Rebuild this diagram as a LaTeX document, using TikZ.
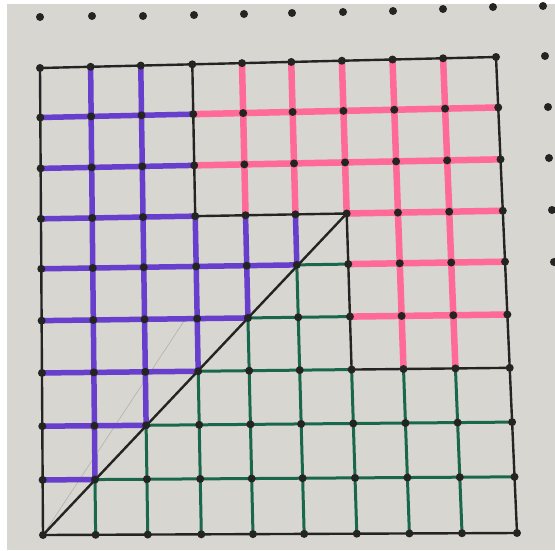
\documentclass[tikz,border=0pt]{standalone}
\usepackage{tikz}
\usetikzlibrary{calc}
\definecolor{paperbg}{RGB}{215,214,209}
\definecolor{inkblack}{RGB}{36,36,34}
\definecolor{inkpurple}{RGB}{104,62,204}
\definecolor{inkpink}{RGB}{255,106,152}
\definecolor{inkgreen}{RGB}{26,104,76}
\tikzset{
  inkline/.style={draw=inkblack,line width=2.4pt,line join=round},
  purpleline/.style={draw=inkpurple,line width=5.5pt},
  pinkline/.style={draw=inkpink,line width=6.5pt},
  greenline/.style={draw=inkgreen,line width=3pt},
  pencilline/.style={draw=black!45,line width=0.6pt,opacity=0.5},
  griddot/.style={circle,fill=inkblack,minimum size=8pt,inner sep=0pt},
  paperdot/.style={circle,fill=inkblack,minimum size=8pt,inner sep=0pt}
}

\begin{document}
\begin{tikzpicture}[x=1pt,y=-1pt]
  \fill[white] (0,0) rectangle (555,550);
  \fill[paperbg] (7,4) rectangle (555,550);
  \useasboundingbox (0,0) rectangle (555,550);

  \coordinate (TL) at (40,68);
  \coordinate (TR) at (496,57);
  \coordinate (BL) at (43,535);
  \coordinate (BR) at (517,533);
  \foreach \i/\u in {0/0,1/0.111,2/0.221,3/0.334,4/0.443,5/0.551,6/0.662,7/0.773,8/0.884,9/1}{
    \foreach \j/\v in {0/0,1/0.118,2/0.233,3/0.347,4/0.459,5/0.570,6/0.677,7/0.785,8/0.894,9/1}{
      \coordinate (g\i\j) at ($ ($(BL)!\u!(BR)$)!\v!($(TL)!\u!(TR)$) $);
    }
  }
  \coordinate (pencilend) at (186,318);

  \draw[pencilline] (g00) -- (pencilend);

  \draw[purpleline] (g19) -- (g11) (g29) -- (g22) (g36) -- (g33) (g46) -- (g44) (g56) -- (g55);
  \draw[purpleline] (g08) -- (g38) (g07) -- (g37) (g06) -- (g36) (g05) -- (g55)
    (g04) -- (g44) (g03) -- (g33) (g02) -- (g22) (g01) -- (g11);

  \draw[pinkline] (g49) -- (g46) (g59) -- (g56) (g69) -- (g66) (g79) -- (g73) (g89) -- (g83);
  \draw[pinkline] (g38) -- (g98) (g37) -- (g97) (g66) -- (g96) (g65) -- (g95) (g64) -- (g94);

  \draw[greenline] (g11) -- (g10) (g22) -- (g20) (g33) -- (g30) (g44) -- (g40) (g55) -- (g50)
    (g63) -- (g60) (g73) -- (g70) (g83) -- (g80);
  \draw[greenline] (g55) -- (g65) (g44) -- (g64) (g33) -- (g63) (g22) -- (g92) (g11) -- (g91);

  \draw[inkline] (g00) -- (g90) -- (g99) -- (g09) -- cycle;
  \draw[inkline] (g39) -- (g36) -- (g66) -- (g63) -- (g93);
  \draw[inkline] (g00) -- (g66);

  \foreach \i in {0,...,9}{
    \foreach \j in {0,...,9}{
      \node[griddot] (d\i\j) at (g\i\j) {};
    }
  }
  \foreach \x/\y [count=\k] in {40/17,92/16,143/16,194/15,244/14,292/13,343/12,393/11,443/9,493/7,543/6,
    545/56,548/107,549/158,552/210,554/262}{
    \node[paperdot] (pd\k) at (\x,\y) {};
  }
\end{tikzpicture}
\end{document}
